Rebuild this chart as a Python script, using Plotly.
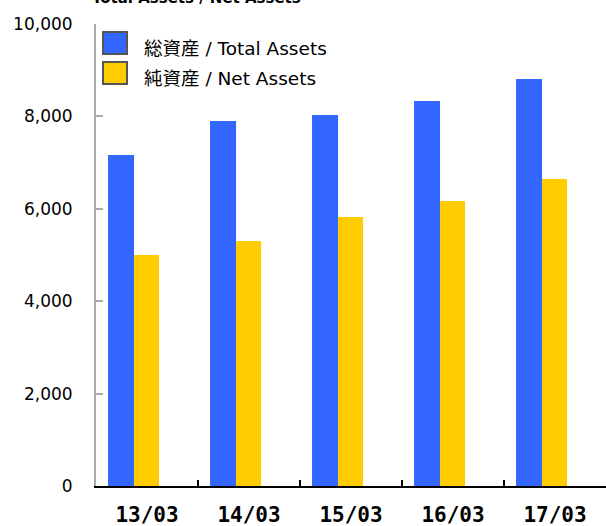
import plotly.graph_objects as go

categories = ["13/03", "14/03", "15/03", "16/03", "17/03"]
total_assets = [7165, 7900, 8030, 8333, 8810]
net_assets = [5000, 5303, 5822, 6169, 6645]
y_ticks = [0, 2000, 4000, 6000, 8000, 10000]
y_tick_text = ["0", "2,000", "4,000", "6,000", "8,000", "10,000"]
series_names = ["総資産 / Total Assets", "純資産 / Net Assets"]
title_text = "Total Assets / Net Assets"

BLUE = "#3366ff"
GOLD = "#ffcc00"

fig = go.Figure()
fig.add_trace(go.Bar(x=categories, y=total_assets, name=series_names[0],
                     marker=dict(color=BLUE, line=dict(width=0)),
                     width=0.255, offset=-0.382, showlegend=False))
fig.add_trace(go.Bar(x=categories, y=net_assets, name=series_names[1],
                     marker=dict(color=GOLD, line=dict(width=0)),
                     width=0.245, offset=-0.127, showlegend=False))

FONT = "DejaVu Sans"

fig.update_layout(
    width=606, height=526,
    margin=dict(l=96, r=0, t=24, b=40, pad=0, autoexpand=False),
    paper_bgcolor="white", plot_bgcolor="white",
    font=dict(family=FONT, color="#000000"),
    barmode="overlay",
    showlegend=False,
    xaxis=dict(
        type="category", range=[-0.5, 4.5], automargin=False,
        showline=True, linecolor="#000000", linewidth=2,
        ticks="inside", tickson="boundaries", ticklen=6, tickwidth=2, tickcolor="#000000",
        showgrid=False, zeroline=False,
        tickfont=dict(family="DejaVu Sans Mono", size=21, color="#000000", weight="bold"),
        ticklabelstandoff=9,
    ),
    yaxis=dict(
        range=[0, 10000], tickvals=y_ticks, ticktext=y_tick_text, automargin=False,
        showline=True, linecolor="#aaaaaa", linewidth=2,
        ticks="inside", ticklen=7, tickwidth=2, tickcolor="#aaaaaa",
        showgrid=False, zeroline=False,
        tickfont=dict(family=FONT, size=17, color="#000000"),
        ticklabelstandoff=18,
    ),
)

# title (partly clipped at top, as in the reference)
fig.add_annotation(text="<b>" + title_text + "</b>", xref="paper", yref="paper",
                   x=-0.012, y=(486 - 9) / 462, xanchor="left", yanchor="bottom", showarrow=False,
                   font=dict(family=FONT, size=15, color="#000000"))

# manual legend
legend_colors = [BLUE, GOLD]
box_tops = [32, 62]
for name, col, top in zip(series_names, legend_colors, box_tops):
    y0 = (486 - top) / 462
    y1 = (486 - (top + 22)) / 462
    fig.add_shape(type="rect", xref="paper", yref="paper",
                  x0=(103 - 96) / 510, x1=(127 - 96) / 510, y0=y1, y1=y0,
                  fillcolor=col, line=dict(color="#555555", width=2))
    fig.add_annotation(text=name, xref="paper", yref="paper",
                       x=(142 - 96) / 510, y=(486 - (top + 16)) / 462, xanchor="left", yanchor="middle",
                       showarrow=False,
                       font=dict(family="DejaVu Sans, Noto Sans CJK JP", size=18.5, color="#000000"))

fig.write_html("out.html", config={"displayModeBar": False},
               post_script="document.body.style.margin='0';document.body.style.overflow='hidden';")
